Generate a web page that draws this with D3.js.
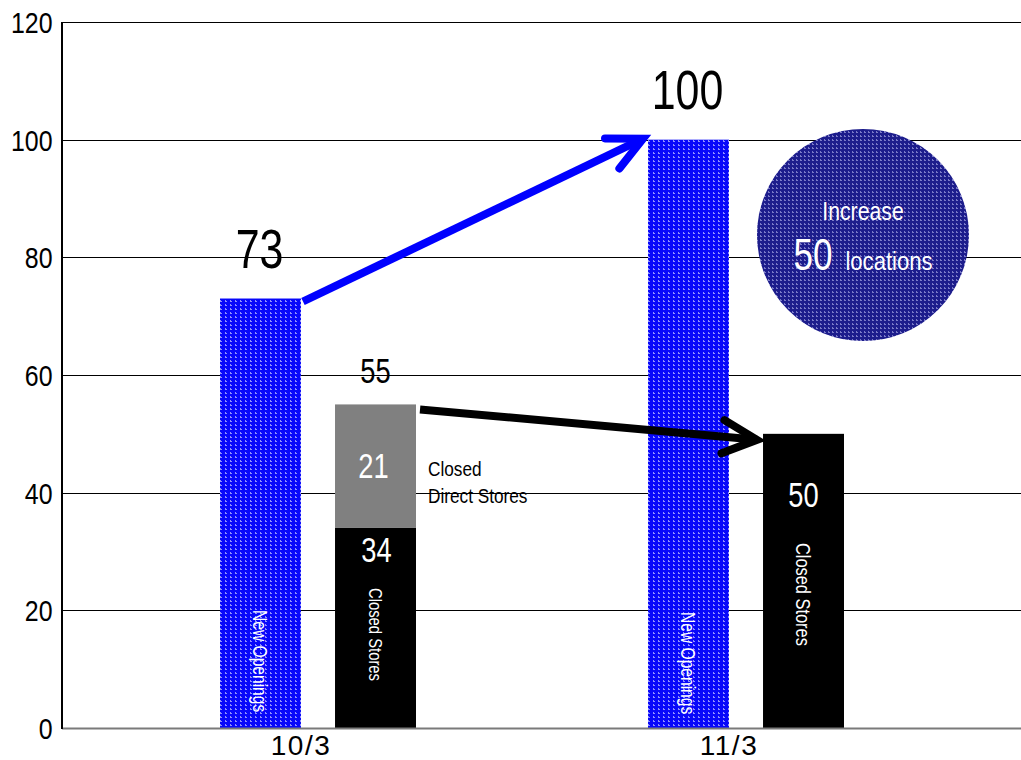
<!DOCTYPE html>
<html>
<head>
<meta charset="utf-8">
<script src="https://cdn.jsdelivr.net/npm/d3@7"></script>
<style>
  html, body { margin: 0; padding: 0; background: #fff; }
  svg { display: block; }
  text { font-family: "Liberation Sans", Arial, sans-serif; }
</style>
</head>
<body>
<svg id="chart" width="1021" height="760"></svg>
<script>
// Store counts per period
const periods = ["10/3", "11/3"];
const newOpenings = [73, 100];
const closedStores = [34, 50];
const closedDirect = [21, 0];
const yTicks = [0, 20, 40, 60, 80, 100, 120];
const increase = 50;

const W = 1021, H = 760;
const margin = { left: 62, right: 0, top: 22, bottom: 32 };
const NARROW = 0.78;   // horizontal squeeze for the condensed labels

const svg = d3.select("#chart");
const defs = svg.append("defs");

// dotted textures
function dotPattern(id, base, dot, w, h) {
  const p = defs.append("pattern").attr("id", id)
    .attr("patternUnits", "userSpaceOnUse").attr("width", w).attr("height", h);
  p.append("rect").attr("width", w).attr("height", h).attr("fill", base);
  p.append("rect").attr("x", 1).attr("y", 0).attr("width", 1).attr("height", 2).attr("fill", dot);
  p.append("rect").attr("x", 2).attr("y", 1).attr("width", 1).attr("height", 1).attr("fill", dot);
}
dotPattern("bluedots", "#0808fa", "#8f8fff", 5, 4);
dotPattern("navydots", "#1d1d8c", "#7a7ac8", 4, 4);

// condensed text helper
function ntext(parent, x, y, size, txt, opts = {}) {
  return parent.append("text")
    .attr("transform", `translate(${x},${y})${opts.rotate ? ` rotate(${opts.rotate})` : ""} scale(${opts.sx || NARROW},1)`)
    .attr("text-anchor", opts.anchor || "middle")
    .attr("dy", opts.dy || null)
    .attr("font-size", size).attr("fill", opts.fill || "#000").text(txt);
}

const y = d3.scaleLinear().domain([0, 120]).range([H - margin.bottom, margin.top]);
const x0 = d3.scaleBand().domain(periods).range([104, 960]);
const x1 = d3.scaleBand().domain(["open", "closed"]).range([116, 312]).paddingInner(0.296);

// gridlines
const grid = svg.append("g");
grid.selectAll("line").data(yTicks.filter(d => d > 0)).join("line")
  .attr("x1", margin.left).attr("x2", W)
  .attr("y1", d => Math.round(y(d)) + 0.5).attr("y2", d => Math.round(y(d)) + 0.5)
  .attr("stroke", "#000").attr("stroke-width", 1);

// y axis labels
const yAxis = d3.axisLeft(y).tickValues(yTicks).tickSize(0).tickPadding(11);
const gy = svg.append("g").attr("transform", `translate(${margin.left},0)`).call(yAxis);
gy.select(".domain").remove();
gy.selectAll("text").attr("font-size", 29).attr("fill", "#000")
  .attr("font-family", "'Liberation Sans', Arial, sans-serif").attr("dy", "0.36em")
  .attr("transform", "scale(0.86,1)");

// bars
const groups = svg.append("g").selectAll("g").data(periods).join("g")
  .attr("transform", d => `translate(${x0(d)},0)`);

groups.append("rect")
  .attr("x", x1("open")).attr("width", x1.bandwidth())
  .attr("y", (d, i) => y(newOpenings[i]))
  .attr("height", (d, i) => y(0) - y(newOpenings[i]))
  .attr("fill", "url(#bluedots)");

groups.append("rect")
  .attr("x", x1("closed")).attr("width", x1.bandwidth())
  .attr("y", (d, i) => y(closedStores[i]))
  .attr("height", (d, i) => y(0) - y(closedStores[i]))
  .attr("fill", "#000");

groups.filter((d, i) => closedDirect[i] > 0).append("rect")
  .attr("x", x1("closed")).attr("width", x1.bandwidth())
  .attr("y", d => { const i = periods.indexOf(d); return y(closedStores[i] + closedDirect[i]); })
  .attr("height", d => { const i = periods.indexOf(d); return y(closedStores[i]) - y(closedStores[i] + closedDirect[i]); })
  .attr("fill", "#808080");

// axes lines
svg.append("line").attr("x1", margin.left).attr("x2", W)
  .attr("y1", y(0) + 0.5).attr("y2", y(0) + 0.5)
  .attr("stroke", "#7a7a7a").attr("stroke-width", 2);
svg.append("line").attr("x1", margin.left).attr("x2", margin.left)
  .attr("y1", y(120)).attr("y2", y(0) + 1)
  .attr("stroke", "#000").attr("stroke-width", 2);

// category labels
svg.append("g").selectAll("text").data(periods).join("text")
  .attr("x", d => x0(d) + 197).attr("y", y(0) + 27)
  .attr("text-anchor", "middle").attr("font-size", 28).attr("letter-spacing", 1.5)
  .attr("fill", "#000")
  .text(d => d);

// value labels
const cx = (p, s) => x0(p) + x1(s) + x1.bandwidth() / 2;
const labels = svg.append("g");

periods.forEach((p, i) => {
  ntext(labels, cx(p, "open") - 1, y(newOpenings[i]) - 31, 55, newOpenings[i]);
});

// 10/3 stacked closed bar labels
const p0 = periods[0];
ntext(labels, cx(p0, "closed"), y(closedStores[0] + closedDirect[0]) - 21, 35,
  closedStores[0] + closedDirect[0]);
ntext(labels, cx(p0, "closed") - 2, y(closedStores[0] + closedDirect[0] / 2) + 12, 35,
  closedDirect[0], { fill: "#fff" });
ntext(labels, cx(p0, "closed") + 1, y(closedStores[0]) + 34, 35,
  closedStores[0], { fill: "#fff" });

const noteX = x0(p0) + x1("closed") + x1.bandwidth() + 12;
const noteY = y(closedStores[0] + closedDirect[0] / 2) + 10;
ntext(labels, noteX, noteY, 21, "Closed", { anchor: "start", sx: 0.82 });
ntext(labels, noteX, noteY + 27, 21, "Direct Stores", { anchor: "start", sx: 0.82 });

// 11/3 closed value inside bar
const p1 = periods[1];
ntext(labels, cx(p1, "closed"), y(closedStores[1]) + 73, 35, closedStores[1], { fill: "#fff" });

// rotated bar captions
ntext(labels, cx(p0, "open"), y(0) - 118, 20, "New Openings",
  { rotate: 90, anchor: "start", dy: "0.35em", fill: "#fff" });
ntext(labels, cx(p0, "closed"), y(0) - 140, 19, "Closed Stores",
  { rotate: 90, anchor: "start", dy: "0.35em", fill: "#fff" });
ntext(labels, cx(p1, "open"), y(0) - 116, 20, "New Openings",
  { rotate: 90, anchor: "start", dy: "0.35em", fill: "#fff" });
ntext(labels, cx(p1, "closed"), y(0) - 185, 21, "Closed Stores",
  { rotate: 90, anchor: "start", dy: "0.35em", fill: "#fff" });

// trend arrows
function arrow(xa, ya, xb, yb, color) {
  const g = svg.append("g").attr("stroke", color).attr("stroke-width", 8)
    .attr("stroke-linecap", "round").attr("fill", "none");
  g.append("line").attr("x1", xa).attr("y1", ya).attr("x2", xb).attr("y2", yb)
    .attr("stroke-linecap", "butt");
  const ang = Math.atan2(ya - yb, xa - xb);
  const len = 38, spread = 26 * Math.PI / 180;
  const pts = [
    [xb + len * Math.cos(ang + spread), yb + len * Math.sin(ang + spread)],
    [xb, yb],
    [xb + len * Math.cos(ang - spread), yb + len * Math.sin(ang - spread)]
  ];
  g.append("path").attr("d", d3.line()(pts)).attr("stroke-linejoin", "miter");
}
arrow(x0(p0) + x1("open") + x1.bandwidth() + 2, y(newOpenings[0]) + 3,
      x0(p1) + x1("open") - 5, y(newOpenings[1]) - 1, "#0000ff");
arrow(x0(p0) + x1("closed") + x1.bandwidth() + 4, y(closedStores[0] + closedDirect[0]) + 5,
      x0(p1) + x1("closed") - 6, y(closedStores[1]) + 6, "#000");

// increase badge
const badge = svg.append("g").attr("transform", "translate(863,235)");
badge.append("circle").attr("r", 106).attr("fill", "url(#navydots)");
ntext(badge, 0, -15, 25, "Increase", { fill: "#fff", sx: 0.85 });
ntext(badge, -50, 35, 45, increase, { fill: "#fff" });
ntext(badge, 26, 35, 26, "locations", { fill: "#fff", sx: 0.85 });
</script>
</body>
</html>
